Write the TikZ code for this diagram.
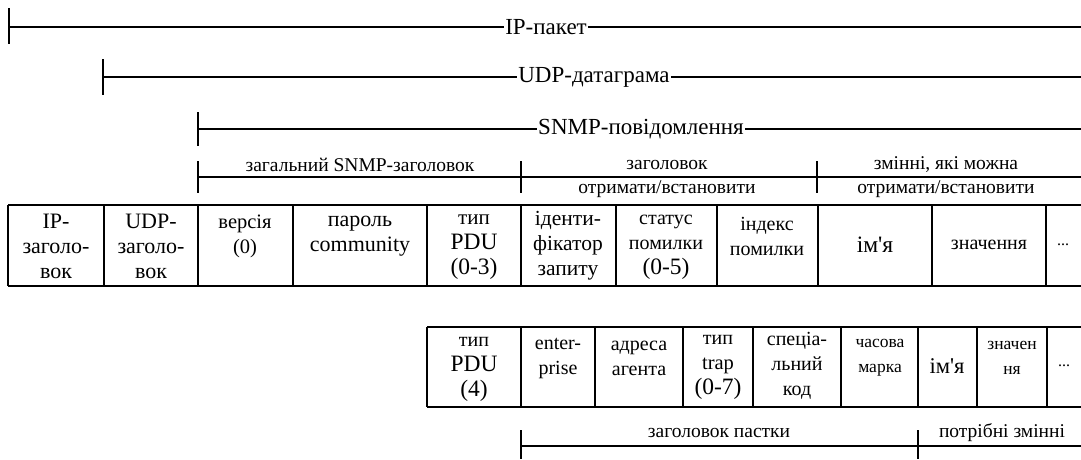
\documentclass[tikz,border=0pt]{standalone}
\usepackage{fontspec}
\setmainfont{Liberation Serif}
\usetikzlibrary{calc}
\newcommand{\fsz}[1]{\fontsize{#1}{25}\selectfont}
\begin{document}
\begin{tikzpicture}[x=1pt,y=-1pt,
  brk/.style={line width=1.3pt},
  cellline/.style={line width=2.5pt},
  ttl/.style={font=\fontsize{23}{27}\selectfont,inner xsep=1pt,inner ysep=0pt},
  sec/.style={font=\fontsize{19.5}{23}\selectfont,inner sep=0pt},
  txtmain/.style={align=center,inner sep=0pt,font=\fontsize{20}{25}\selectfont}]
\useasboundingbox (0,0) rectangle (1081,459);
% --- top brackets
\coordinate (ipL) at (9,27);   \coordinate (ipR) at (1081,27);
\coordinate (udpL) at (103,77); \coordinate (udpR) at (1081,77);
\coordinate (snL) at (198,129); \coordinate (snR) at (1081,129);
\node[ttl] (ip) at (546,27) {IP-пакет};
\node[ttl] (udp) at (594,77) {UDP-датаграма};
\node[ttl] (sn) at (641,129) {SNMP-повідомлення};
\draw[brk] (ipL) -- (ip.west) (ip.east) -- (ipR);
\draw[brk] ($(ipL)+(0,-19)$) -- ($(ipL)+(0,17)$);
\draw[brk] (udpL) -- (udp.west) (udp.east) -- (udpR);
\draw[brk] ($(udpL)+(0,-18)$) -- ($(udpL)+(0,18)$);
\draw[brk] (snL) -- (sn.west) (sn.east) -- (snR);
\draw[brk] ($(snL)+(0,-17)$) -- ($(snL)+(0,17)$);
% --- section brackets row 1
\coordinate (s1) at (198,177); \coordinate (s2) at (521,177);
\coordinate (s3) at (817,177); \coordinate (s4) at (1081,177);
\draw[brk] (s1) -- (s4);
\foreach \c in {s1,s2,s3} \draw[brk] ($(\c)+(0,-16)$) -- ($(\c)+(0,16)$);
\node[sec] (gh) at (360,165) {загальний SNMP-заголовок};
\node[sec] (zg) at (667,165) {заголовок};
\node[sec] (zg2) at (667,189) {отримати/встановити};
\node[sec] (zm) at (946,165) {змінні, які можна};
\node[sec] (zm2) at (946,189) {отримати/встановити};
% --- row 1
\draw[cellline] (8,205) -- (1081,205) (8,286) -- (1081,286);
\foreach \x in {8,104,198,293,427,521,616,717,818,932,1046}
  \draw[cellline] (\x,205) -- (\x,286);
\node[txtmain,font=\fsz{22}] (a1) at (56,246) {IP-\\заголо-\\вок};
\node[txtmain,font=\fsz{22}] (a2) at (151,246) {UDP-\\заголо-\\вок};
\node[txtmain,font=\fsz{20.5}] (a3) at (245,236) {версія\\(0)};
\node[txtmain,font=\fsz{22}] (a4) at (360,236) {пароль\\community};
\node[txtmain,font=\fsz{21}] (a5) at (474,247) {тип\\{\fsz{23.5}PDU}\\{\fsz{23.5}(0-3)}};
\node[txtmain,font=\fsz{21.5}] (a6) at (568,246) {іденти-\\фікатор\\запиту};
\node[txtmain] (a7) at (666,247) {статус\\помилки\\{\fsz{23.5}(0-5)}};
\node[txtmain] (a8) at (767,236) {індекс\\помилки};
\node[txtmain,font=\fsz{23.5}] (a9) at (875,245) {ім\textquotesingle я};
\node[txtmain] (a10) at (989,245) {значення};
\node[txtmain,font=\fsz{16}] (a11) at (1063,245) {...};
% --- row 2
\draw[cellline] (427,327) -- (1081,327) (427,407) -- (1081,407);
\foreach \x in {427,521,595,683,753,841,918,977,1047}
  \draw[cellline] (\x,327) -- (\x,407);
\node[txtmain] (b1) at (474,369) {тип\\{\fsz{23.5}PDU}\\{\fsz{23.5}(4)}};
\node[txtmain] (b2) at (558,358) {enter-\\prise};
\node[txtmain] (b3) at (639,358) {адреса\\агента};
\node[txtmain] (b4) at (718,367) {тип\\{\fsz{20.5}trap}\\{\fsz{23.5}(0-7)}};
\node[txtmain] (b5) at (797,366) {спеціа-\\льний\\код};
\node[txtmain,font=\fsz{17.5}] (b6) at (880,358) {часова\\марка};
\node[txtmain,font=\fsz{22.5}] (b7) at (947,366) {ім\textquotesingle я};
\node[txtmain,font=\fsz{17.5}] (b8) at (1012,358) {значен\\ня};
\node[txtmain,font=\fsz{16}] (b9) at (1064,366) {...};
% --- bottom brackets
\coordinate (t1) at (521,446); \coordinate (t2) at (918,446); \coordinate (t3) at (1081,446);
\draw[brk] (t1) -- (t3);
\foreach \c in {t1,t2} \draw[brk] ($(\c)+(0,-16)$) -- ($(\c)+(0,13)$);
\node[sec] (tp) at (719,433) {заголовок пастки};
\node[sec] (pz) at (1002,433) {потрібні змінні};
\end{tikzpicture}
\end{document}
